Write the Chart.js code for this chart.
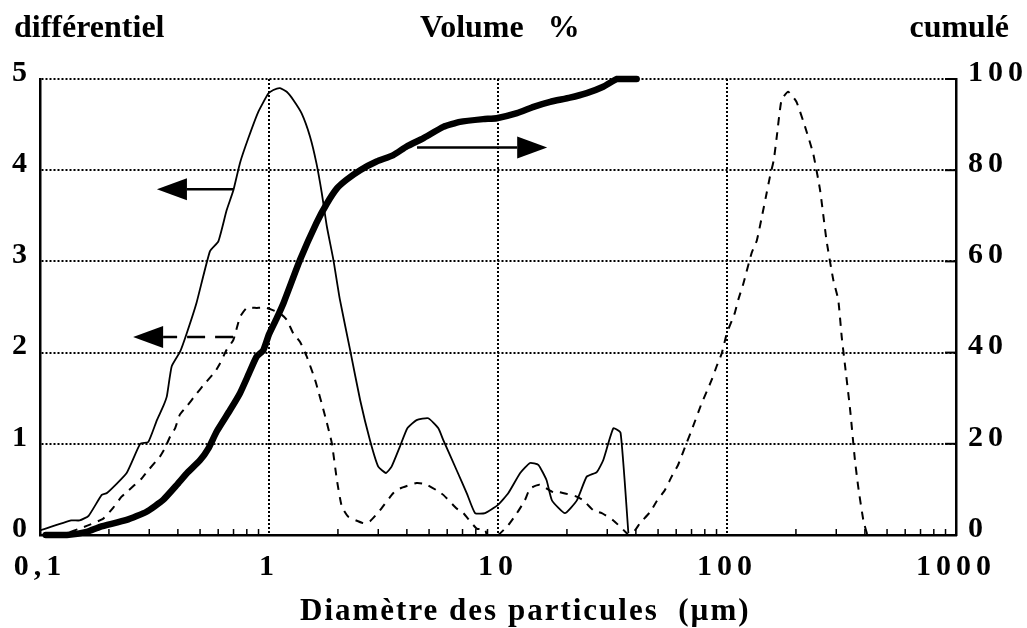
<!DOCTYPE html>
<html>
<head>
<meta charset="utf-8">
<script src="https://cdn.jsdelivr.net/npm/chart.js@4.4.1/dist/chart.umd.min.js"></script>
<style>
  html, body { margin: 0; padding: 0; background: #fff; }
  #wrap { width: 1027px; height: 628px; }
</style>
</head>
<body>
<div id="wrap"><canvas id="chart"></canvas></div>
<script>
// particle diameter (µm) and differential volume % - solid curve
const diamSolid = [0.1, 0.137, 0.149, 0.163, 0.186, 0.196, 0.239, 0.274, 0.297, 0.324, 0.345, 0.358, 0.376, 0.409, 0.437, 0.483,
  0.552, 0.601, 0.653, 0.699, 0.747, 0.812, 0.898, 0.993, 1.045, 1.117, 1.195, 1.277, 1.39, 1.51, 1.61, 1.70, 1.79, 1.91,
  2.04, 2.26, 2.50, 2.76, 3.00, 3.24, 3.43, 3.73, 4.02, 4.41, 4.96, 5.49, 5.77, 6.60, 7.30, 7.94, 8.78, 10.0, 11.1, 12.5,
  13.8, 15.0, 16.3, 17.2, 19.6, 22.1, 24.4, 27.0, 28.8, 31.9, 34.3, 37.1];
const volSolid = [0.05, 0.16, 0.16, 0.21, 0.44, 0.46, 0.68, 1.0, 1.02, 1.26, 1.41, 1.52, 1.85, 2.01, 2.21, 2.55,
  3.11, 3.22, 3.56, 3.78, 4.08, 4.35, 4.64, 4.84, 4.88, 4.90, 4.86, 4.77, 4.62, 4.37, 4.08, 3.75, 3.38, 3.02,
  2.58, 2.03, 1.48, 1.04, 0.75, 0.68, 0.75, 0.97, 1.17, 1.26, 1.28, 1.17, 1.04, 0.71, 0.46, 0.24, 0.24, 0.33, 0.46, 0.68,
  0.79, 0.77, 0.60, 0.38, 0.24, 0.38, 0.64, 0.69, 0.82, 1.17, 1.12, 0.02];

// differential volume % - dashed curve
const diamDashed = [0.1, 0.13, 0.16, 0.189, 0.209, 0.227, 0.239, 0.278, 0.297, 0.334, 0.351, 0.370, 0.389, 0.408, 0.437, 0.483,
  0.516, 0.581, 0.611, 0.653, 0.699, 0.747, 0.799, 0.884, 0.977, 1.117, 1.195, 1.277, 1.365, 1.46, 1.59, 1.76, 1.88, 1.98,
  2.08, 2.22, 2.58, 2.76, 3.05, 3.49, 3.73, 4.41, 4.80, 5.40, 5.77, 6.60, 7.06, 8.07, 8.78, 8.95, 10.0, 11.1, 12.1, 13.1,
  13.8, 15.2, 17.4, 18.6, 22.1, 23.6, 26.1, 28.4, 31.9, 36.5, 37.1, 39.6, 41.7, 46.1, 49.3, 53.5, 57.3, 61.2, 66.6, 70.1,
  77.4, 85.7, 90.1, 94.8, 99.8, 108, 112, 118, 128, 135, 142, 149, 154, 160, 165, 173, 185, 201, 219, 238, 255, 272, 291,
  306, 317, 328, 345, 362, 374, 394, 410];
const volDashed = [0, 0.02, 0.1, 0.18, 0.30, 0.42, 0.47, 0.62, 0.71, 0.86, 0.95, 1.08, 1.17, 1.32, 1.41, 1.55,
  1.64, 1.79, 1.88, 2.03, 2.14, 2.39, 2.49, 2.49, 2.49, 2.43, 2.36, 2.21, 2.12, 1.96, 1.70, 1.30, 1.01, 0.60,
  0.31, 0.20, 0.13, 0.15, 0.27, 0.46, 0.51, 0.57, 0.56, 0.49, 0.44, 0.29, 0.24, 0.07, 0.06, 0, 0, 0.11, 0.24, 0.38,
  0.51, 0.55, 0.47, 0.47, 0.42, 0.38, 0.27, 0.24, 0.16, 0.02, 0, 0.05, 0.13, 0.25, 0.37, 0.49, 0.64, 0.77, 1.01, 1.15,
  1.44, 1.70, 1.85, 1.99, 2.21, 2.43, 2.58, 2.76, 3.09, 3.23, 3.49, 3.75, 3.93, 4.11, 4.37, 4.77, 4.86, 4.75, 4.48, 4.18, 3.78, 3.23, 2.80,
  2.58, 2.17, 1.85, 1.37, 0.82, 0.53, 0.16, 0];

// cumulative volume % - thick curve (right axis)
const diamCumul = [0.106, 0.131, 0.16, 0.183, 0.239, 0.292, 0.345, 0.396, 0.437, 0.5, 0.544, 0.591, 0.676, 0.747, 0.812, 0.882,
  0.944, 1.0, 1.08, 1.16, 1.365, 1.61, 1.79, 1.98, 2.18, 2.50, 2.95, 3.49, 3.99, 4.71, 5.77, 6.82, 8.62, 9.87, 12.1, 14.3,
  16.9, 20.6, 24.4, 28.8, 33.0, 35.5, 40.3];
const volCumul = [0, 0, 0.7, 1.8, 3.3, 5.1, 7.7, 11.0, 13.5, 16.4, 19.0, 22.7, 27.4, 31.1, 35.1, 39.1,
  40.5, 44.0, 47.5, 51.0, 60.3, 68.4, 72.7, 76.0, 77.9, 80.0, 81.9, 83.3, 85.2, 87.0, 89.5, 90.6, 91.2, 91.4, 92.5, 93.9,
  95.0, 95.9, 96.9, 98.3, 100, 100, 100];

const xTickValues = [0.1, 1, 10, 100, 1000];
const xTickLabels = ['0,1', '1', '10', '100', '1000'];

// arrows (tail diameter, tip diameter, level on left axis, dashed?)
const arrowTails = [0.697, 0.697, 4.43];
const arrowTips = [0.324, 0.255, 16.4];
const arrowLevels = [3.79, 2.17, 4.25];
const arrowDashed = [false, true, false];

const FONT = "'Liberation Serif', 'Times New Roman', serif";

function toPoints(xs, ys) {
  return xs.map((x, i) => ({ x: x, y: ys[i] }));
}

function isMajor(v) {
  return xTickValues.findIndex(t => Math.abs(Math.log10(v) - Math.log10(t)) < 1e-6);
}

function drawArrow(ctx, x1, x2, y, dashed) {
  const dir = x2 > x1 ? 1 : -1;
  const headLen = 30, half = 11;
  ctx.save();
  ctx.strokeStyle = '#000';
  ctx.fillStyle = '#000';
  ctx.lineWidth = 2.5;
  if (dashed) ctx.setLineDash([18, 10]);
  ctx.beginPath();
  ctx.moveTo(x1, y);
  ctx.lineTo(x2 - dir * headLen, y);
  ctx.stroke();
  ctx.setLineDash([]);
  ctx.beginPath();
  ctx.moveTo(x2, y);
  ctx.lineTo(x2 - dir * headLen, y - half);
  ctx.lineTo(x2 - dir * headLen, y + half);
  ctx.closePath();
  ctx.fill();
  ctx.restore();
}

const decor = {
  id: 'decor',
  beforeDraw(chart) {
    chart.ctx.letterSpacing = '5px';
  },
  afterDraw(chart) {
    const ctx = chart.ctx;
    const { x, y, y1 } = chart.scales;
    const area = chart.chartArea;
    ctx.save();
    ctx.letterSpacing = '0px';
    ctx.strokeStyle = '#000';
    ctx.lineWidth = 1.5;
    // minor ticks on the x axis, pointing inwards
    for (let d = 0.1; d < 1000; d *= 10) {
      for (let k = 2; k <= 9; k++) {
        const px = x.getPixelForValue(k * d);
        ctx.beginPath();
        ctx.moveTo(px, area.bottom);
        ctx.lineTo(px, area.bottom - 6);
        ctx.stroke();
      }
    }
    // short ticks on the right axis
    ctx.lineWidth = 2;
    [20, 40, 60, 80, 100].forEach(v => {
      const py = y1.getPixelForValue(v);
      ctx.beginPath();
      ctx.moveTo(area.right - 11, py);
      ctx.lineTo(area.right, py);
      ctx.stroke();
    });
    // arrows
    arrowTails.forEach((t, i) => {
      drawArrow(ctx, x.getPixelForValue(t), x.getPixelForValue(arrowTips[i]),
        y.getPixelForValue(arrowLevels[i]), arrowDashed[i]);
    });
    // headings
    ctx.fillStyle = '#000';
    ctx.font = 'bold 32px ' + FONT;
    ctx.textBaseline = 'alphabetic';
    ctx.textAlign = 'left';
    ctx.fillText('différentiel', 14, 37);
    ctx.fillText('Volume   %', 420, 37);
    ctx.textAlign = 'right';
    ctx.fillText('cumulé', 1009, 37);
    ctx.textAlign = 'left';
    ctx.font = 'bold 31px ' + FONT;
    ctx.letterSpacing = '2px';
    ctx.fillText('Diamètre des particules  (µm)', 300, 620);
    ctx.restore();
    ctx.letterSpacing = '0px';
  }
};

const tickFont = { family: FONT, size: 30, weight: 'bold' };

new Chart(document.getElementById('chart'), {
  type: 'line',
  data: {
    datasets: [
      {
        data: toPoints(diamSolid, volSolid),
        yAxisID: 'y',
        borderColor: '#000',
        borderWidth: 1.8,
        pointRadius: 0,
        tension: 0.15
      },
      {
        data: toPoints(diamDashed, volDashed),
        yAxisID: 'y',
        borderColor: '#000',
        borderWidth: 2,
        borderDash: [8, 7],
        pointRadius: 0,
        tension: 0.15
      },
      {
        data: toPoints(diamCumul, volCumul),
        yAxisID: 'y1',
        borderColor: '#000',
        borderWidth: 6.5,
        borderCapStyle: 'round',
        pointRadius: 0,
        tension: 0.15,
        clip: false
      }
    ]
  },
  plugins: [decor],
  options: {
    responsive: true,
    maintainAspectRatio: false,
    animation: false,
    layout: { padding: { top: 79, left: 0, right: 0, bottom: 0 } },
    plugins: {
      legend: { display: false },
      tooltip: { enabled: false }
    },
    scales: {
      x: {
        type: 'logarithmic',
        min: 0.1,
        max: 1000,
        afterFit(scale) { scale.height = 93; },
        grid: {
          color(c) {
            const i = isMajor(c.tick.value);
            return (i > 0 && i < xTickValues.length - 1) ? '#000' : 'rgba(0,0,0,0)';
          },
          lineWidth: 2,
          drawTicks: false
        },
        border: { display: true, color: '#000', width: 2.5, dash: [2, 2] },
        ticks: {
          autoSkip: false,
          maxRotation: 0,
          padding: 14,
          color: '#000',
          font: tickFont,
          callback(v) {
            const i = isMajor(v);
            return i >= 0 ? xTickLabels[i] : '';
          }
        }
      },
      y: {
        position: 'left',
        min: 0,
        max: 5,
        afterFit(scale) { scale.width = 40; },
        grid: { color: '#000', lineWidth: 2, drawTicks: false },
        border: { display: true, color: '#000', width: 2.5, dash: [2, 2] },
        ticks: { stepSize: 1, padding: 8, labelOffset: -6, color: '#000', font: tickFont }
      },
      y1: {
        position: 'right',
        min: 0,
        max: 100,
        afterFit(scale) { scale.width = 71; },
        grid: { display: false, drawTicks: false },
        border: { display: true, color: '#000', width: 2.5 },
        ticks: { stepSize: 20, padding: 12, labelOffset: -6, color: '#000', font: tickFont }
      }
    }
  }
});
</script>
</body>
</html>
